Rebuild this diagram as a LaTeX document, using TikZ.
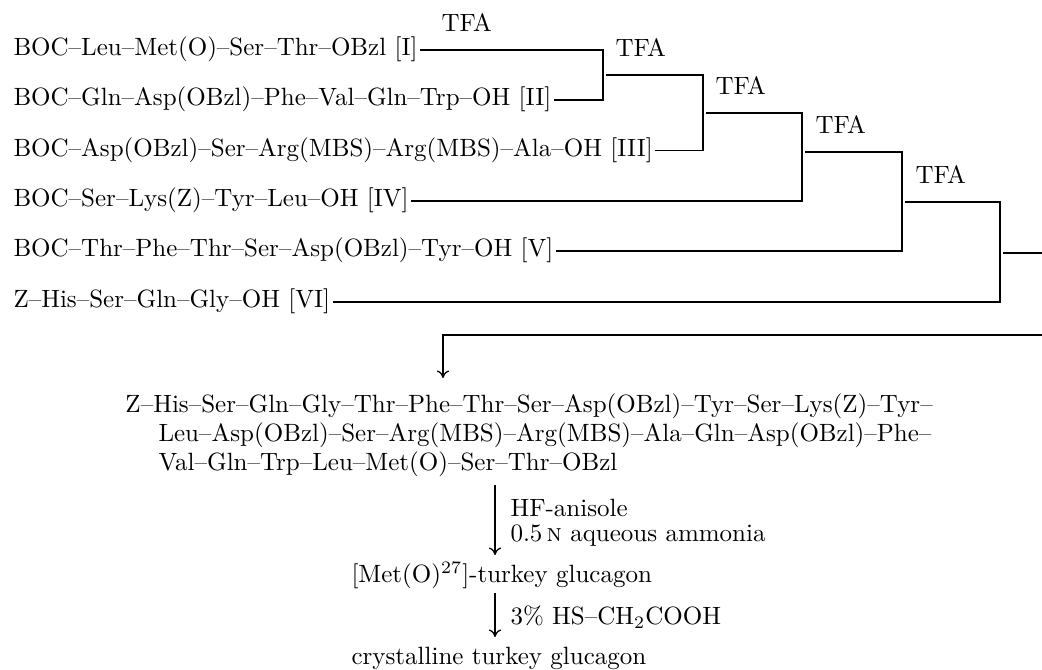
\documentclass[tikz,border=0pt]{standalone}
\usepackage{fontspec}
\usetikzlibrary{calc,arrows.meta}
\begin{document}
\begin{tikzpicture}[x=0.4pt,y=-0.4pt,
  lbl/.style={anchor=base west,inner sep=0pt,font=\fontsize{10}{12}\selectfont},
  con/.style={line width=0.5pt},
  arr/.style={line width=0.5pt,-{To[length=3pt,width=5pt]}}]
\useasboundingbox (0,0) rectangle (1042,670);
% starting materials
\node[lbl] (r1) at (13,56)  {BOC--Leu--Met(O)--Ser--Thr--OBzl [I]};
\node[lbl] (r2) at (13,106) {BOC--Gln--Asp(OBzl)--Phe--Val--Gln--Trp--OH [II]};
\node[lbl] (r3) at (13,156.5) {BOC--Asp(OBzl)--Ser--Arg(MBS)--Arg(MBS)--Ala--OH [III]};
\node[lbl] (r4) at (13,207) {BOC--Ser--Lys(Z)--Tyr--Leu--OH [IV]};
\node[lbl] (r5) at (13,257) {BOC--Thr--Phe--Thr--Ser--Asp(OBzl)--Tyr--OH [V]};
\node[lbl] (r6) at (13,308) {Z--His--Ser--Gln--Gly--OH [VI]};
\foreach \i in {1,...,6}{\coordinate (a\i) at ($(r\i.base east)+(2,-6)$);}
% bracket columns and outputs
\coordinate (x1) at (603,0);
\coordinate (x2) at (703,0);
\coordinate (x3) at (802,0);
\coordinate (x4) at (902,0);
\coordinate (x5) at (1000,0);
\coordinate (o1) at (603,75);
\coordinate (o2) at (703,113);
\coordinate (o3) at (802,152);
\coordinate (o4) at (902,202);
\coordinate (o5) at (1000,253);
\coordinate (e5) at (1042,253);
% TFA labels
\node[lbl] (tfa1) at (441,32)  {TFA};
\node[lbl] (tfa2) at (615,57)  {TFA};
\node[lbl] (tfa3) at (715,95)  {TFA};
\node[lbl] (tfa4) at (815,134) {TFA};
\node[lbl] (tfa5) at (915,184) {TFA};
% connectors
\draw[con] (a1) -| (x1 |- a2) -- (a2);
\draw[con] ($(o1)+(3,0)$) -| (x2 |- a3) -- (a3);
\draw[con] ($(o2)+(3,0)$) -| (x3 |- a4) -- (a4);
\draw[con] ($(o3)+(3,0)$) -| (x4 |- a5) -- (a5);
\draw[con] ($(o4)+(3,0)$) -| (x5 |- a6) -- (a6);
\draw[con] ($(o5)+(3,0)$) -- (e5);
% continuation to the product
\coordinate (e6) at (1042,335);
\coordinate (t1) at (443,378);
\draw[arr] (e6) -| (t1);
% protected product
\node[lbl] (p1) at (125,413) {Z--His--Ser--Gln--Gly--Thr--Phe--Thr--Ser--Asp(OBzl)--Tyr--Ser--Lys(Z)--Tyr--};
\node[lbl] (p2) at (158,442) {Leu--Asp(OBzl)--Ser--Arg(MBS)--Arg(MBS)--Ala--Gln--Asp(OBzl)--Phe--};
\node[lbl] (p3) at (158,471) {Val--Gln--Trp--Leu--Met(O)--Ser--Thr--OBzl};
% deprotection
\coordinate (s2) at (495,485);
\coordinate (t2) at (495,555);
\draw[arr] (s2) -- (t2);
\node[lbl] (hf)  at (510,517) {HF-anisole};
\node[lbl] (amm) at (510,542) {0.5\,\textsc{n} aqueous ammonia};
\node[lbl] (met) at (351,583) {[Met(O)$^{27}$]-turkey glucagon};
\coordinate (s3) at (495,593);
\coordinate (t3) at (495,637);
\draw[arr] (s3) -- (t3);
\node[lbl] (hs)  at (510,625) {3\% HS--CH\textsubscript{2}COOH};
\node[lbl] (cry) at (351,665) {crystalline turkey glucagon};
\end{tikzpicture}
\end{document}
